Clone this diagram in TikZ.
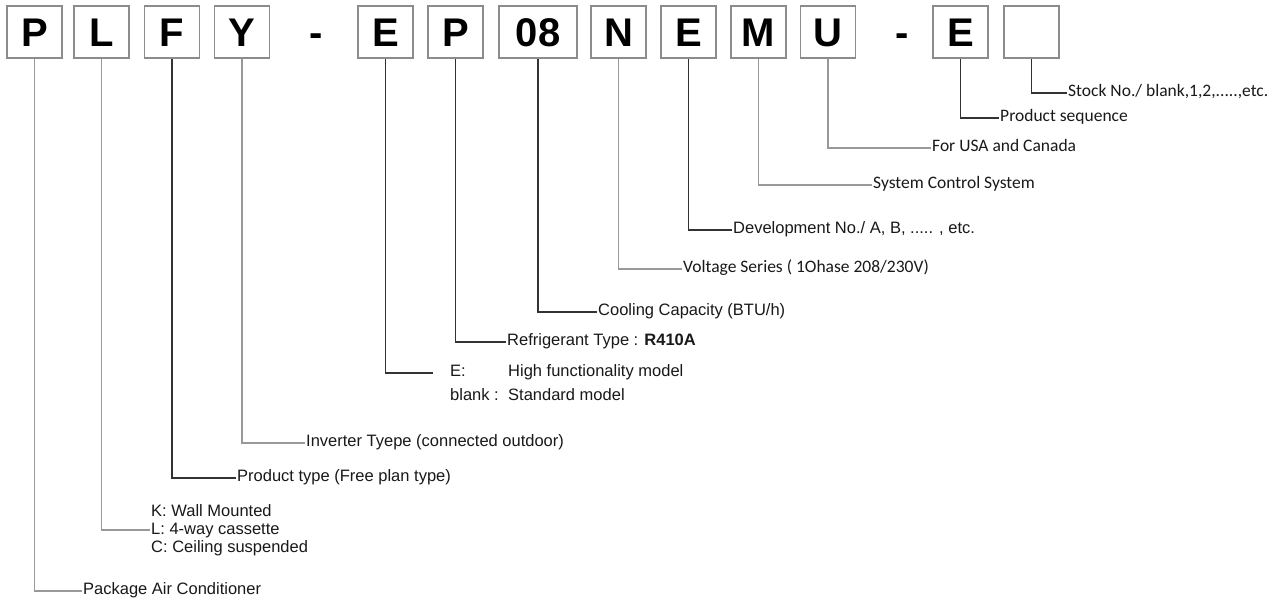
\documentclass[tikz,border=0pt]{standalone}
\usepackage{fontspec}
\newfontfamily\arialf{Liberation Sans}
\newfontfamily\calibf{Carlito}
\definecolor{boxline}{gray}{0.55}
\definecolor{darkline}{gray}{0.2}
\definecolor{lightline}{gray}{0.6}
\definecolor{txt}{gray}{0.1}
\tikzset{
  codebox/.style={draw=boxline, line width=1.2pt, minimum width=55pt, minimum height=52pt, inner sep=0pt,
    font=\arialf\bfseries\fontsize{40}{40}\selectfont, text height=29pt, text depth=0pt, yshift=-1pt},
  codedash/.style={inner sep=0pt, font=\arialf\bfseries\fontsize{40}{40}\selectfont, text height=29pt, text depth=0pt, yshift=-1pt},
  alabel/.style={anchor=west, inner sep=1pt, text=txt, font=\arialf\fontsize{16.5}{18}\selectfont, text height=0.75em, text depth=0pt},
  clabel/.style={anchor=west, inner sep=1pt, text=txt, font=\calibf\fontsize{17.5}{19}\selectfont, text height=0.75em, text depth=0pt},
  dconn/.style={draw=darkline, line width=1.2pt},
  lconn/.style={draw=lightline, line width=1.2pt}
}
\begin{document}
\begin{tikzpicture}[x=1pt,y=-1pt]
\useasboundingbox[fill=white] (0,0) rectangle (1281,603);
% code boxes
\node[codebox] (bP1) at (34.5,31) {P};
\node[codebox] (bL) at (101.5,31) {L};
\node[codebox] (bF) at (172,31) {F};
\node[codebox] (bY) at (242,31) {Y};
\node[codedash] (d1) at (316,31) {-};
\node[codebox] (bE1) at (385.5,31) {E};
\node[codebox] (bP2) at (455.5,31) {P};
\node[codebox, minimum width=78pt] (b08) at (538,31) {08};
\node[codebox] (bN) at (618.5,31) {N};
\node[codebox] (bE2) at (688.5,31) {E};
\node[codebox] (bM) at (758.5,31) {M};
\node[codebox] (bU) at (828,31) {U};
\node[codedash] (d2) at (902,31) {-};
\node[codebox] (bE3) at (960.5,31) {E};
\node[codebox] (bB) at (1031.5,31) {\phantom{E}};
% labels
\node[alabel] (pkg) at (82,591) {Package Air Conditioner};
\node[alabel, align=left, text height=, text depth=] (lbl) at (150,530) {K: Wall Mounted\\[0pt]L: 4-way cassette\\[0pt]C: Ceiling suspended};
\node[alabel] (prod) at (236,478) {Product type (Free plan type)};
\node[alabel] (inv) at (305,443) {Inverter Tyepe (connected outdoor)};
\node[alabel] (eA) at (449,373) {E:};
\node[alabel] (eAt) at (507,373) {High functionality model};
\node[alabel] (eB) at (449,397) {blank :};
\node[alabel] (eBt) at (507,397) {Standard model};
\node[alabel] (ref) at (506,342) {Refrigerant Type : \textbf{R410A}};
\node[alabel] (cool) at (597,312) {Cooling Capacity (BTU/h)};
\node[clabel] (volt) at (682,269) {Voltage Series ( 1Ohase 208/230V)};
\node[alabel] (dev) at (732,230) {Development No./ A, B, ..... , etc.};
\node[clabel] (sys) at (872,185) {System Control System};
\node[clabel] (usa) at (931,148) {For USA and Canada};
\node[clabel] (seq) at (999,118) {Product sequence};
\node[clabel] (stock) at (1067,93) {Stock No./ blank,1,2,.....,etc.};
% connectors
\draw[lconn] (bP1.south) |- (pkg.west);
\draw[lconn] (bL.south) |- (lbl.west);
\draw[dconn] (bF.south) |- (prod.west);
\draw[lconn] (bY.south) |- (inv.west);
\draw[dconn] (bE1.south) |- ([xshift=-16pt]eA.west);
\draw[dconn] (bP2.south) |- (ref.west);
\draw[dconn] (b08.south) |- (cool.west);
\draw[lconn] (bN.south) |- (volt.west);
\draw[dconn] (bE2.south) |- (dev.west);
\draw[lconn] (bM.south) |- (sys.west);
\draw[lconn] (bU.south) |- (usa.west);
\draw[dconn] (bE3.south) |- (seq.west);
\draw[dconn] (bB.south) |- (stock.west);
\end{tikzpicture}
\end{document}
